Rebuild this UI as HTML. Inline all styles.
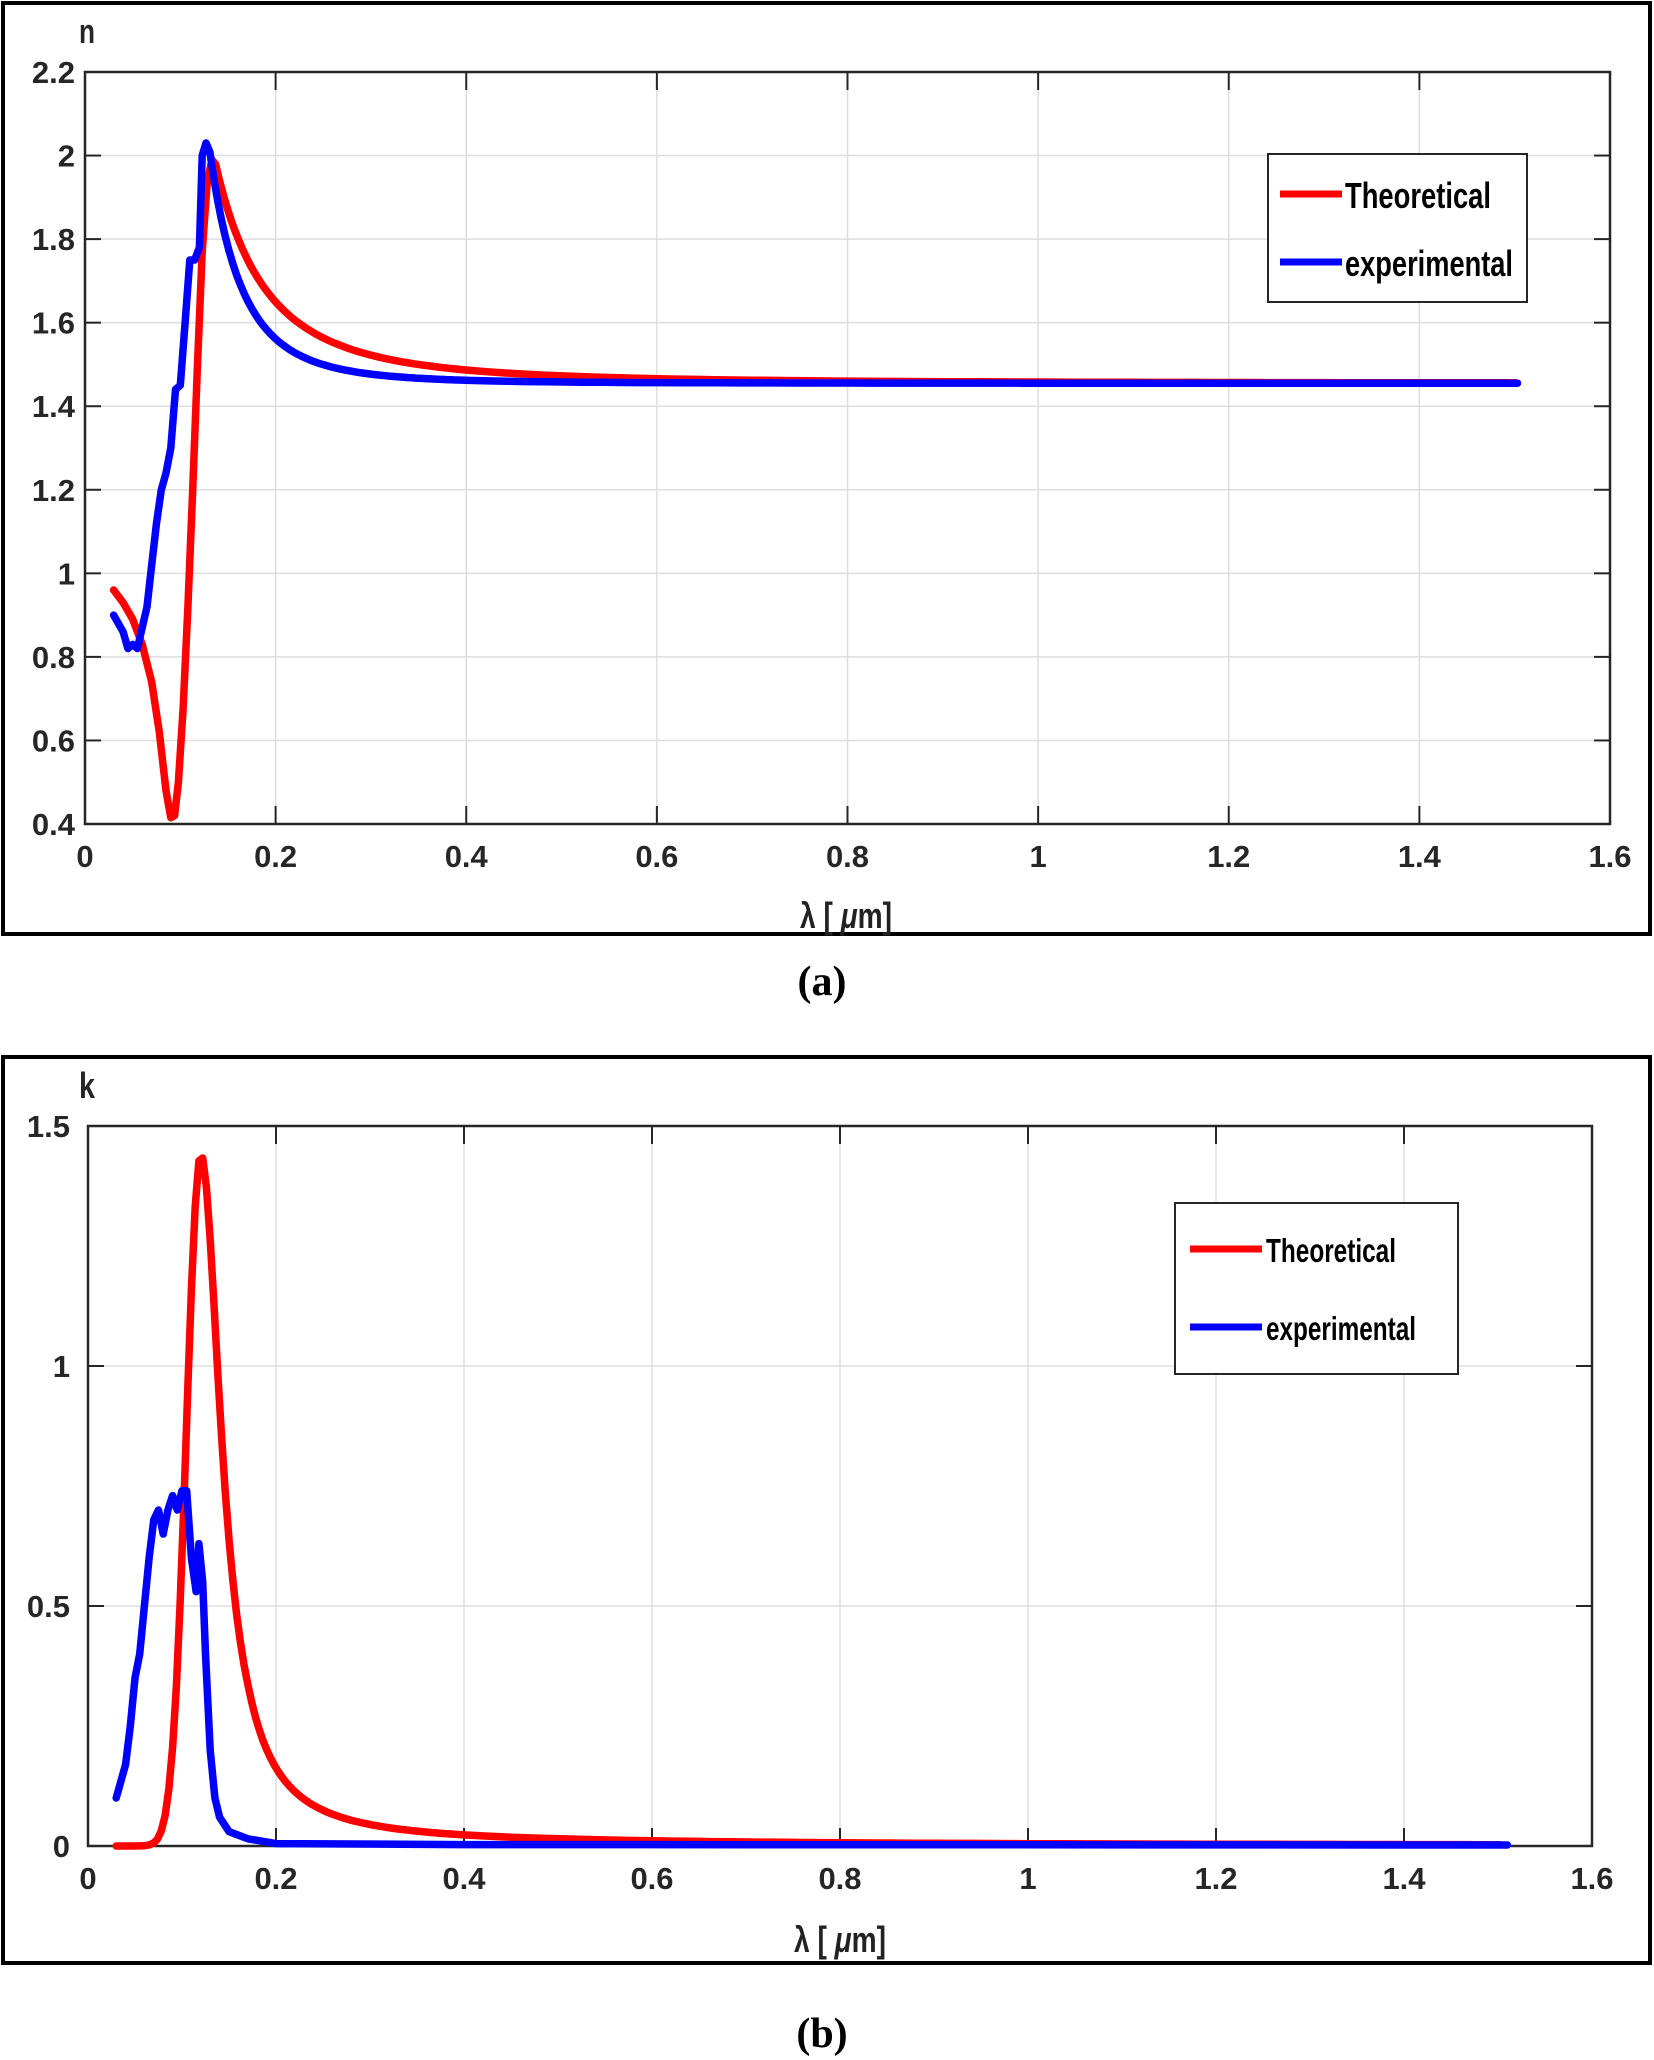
<!DOCTYPE html>
<html><head><meta charset="utf-8"><style>
html,body{margin:0;padding:0;background:#fff;}
svg{display:block;}
text{font-family:"Liberation Sans",sans-serif;font-weight:bold;fill:#262626;}
.tk{font-size:31px;}
</style></head><body>
<svg id="s" width="1654" height="2060" xmlns="http://www.w3.org/2000/svg">
<rect x="3" y="3" width="1647" height="931" fill="none" stroke="#000" stroke-width="4"/>
<rect x="3" y="1057" width="1647" height="906" fill="none" stroke="#000" stroke-width="4"/>
<g id="ga"></g><g id="gb"></g>
<text x="79" y="43" style="font-size:34px" textLength="16" lengthAdjust="spacingAndGlyphs">n</text>
<text x="79" y="1098" style="font-size:36px" textLength="16" lengthAdjust="spacingAndGlyphs">k</text>
<text x="846" y="928" text-anchor="middle" style="font-size:36px;fill:#222" textLength="92" lengthAdjust="spacingAndGlyphs">λ [ <tspan font-style="italic">μ</tspan>m]</text>
<text x="840" y="1952" text-anchor="middle" style="font-size:36px;fill:#222" textLength="92" lengthAdjust="spacingAndGlyphs">λ [ <tspan font-style="italic">μ</tspan>m]</text>
<text x="822" y="995" text-anchor="middle" style="font-family:'Liberation Serif',serif;font-size:42px;fill:#000">(a)</text>
<text x="822" y="2047" text-anchor="middle" style="font-family:'Liberation Serif',serif;font-size:42px;fill:#000">(b)</text>
<rect x="1268" y="154" width="259" height="148" fill="#fff" stroke="#262626" stroke-width="2"/>
<line x1="1280" y1="194" x2="1342" y2="194" stroke="#f00" stroke-width="7"/>
<line x1="1280" y1="262" x2="1342" y2="262" stroke="#00f" stroke-width="7"/>
<text x="1345" y="208" style="font-size:36px;fill:#000" textLength="146" lengthAdjust="spacingAndGlyphs">Theoretical</text>
<text x="1345" y="276" style="font-size:36px;fill:#000" textLength="168" lengthAdjust="spacingAndGlyphs">experimental</text>
<rect x="1175" y="1203" width="283" height="171" fill="#fff" stroke="#262626" stroke-width="2"/>
<line x1="1190" y1="1249" x2="1262" y2="1249" stroke="#f00" stroke-width="7"/>
<line x1="1190" y1="1327" x2="1262" y2="1327" stroke="#00f" stroke-width="7"/>
<text x="1266" y="1262" style="font-size:33px;fill:#000" textLength="130" lengthAdjust="spacingAndGlyphs">Theoretical</text>
<text x="1266" y="1340" style="font-size:33px;fill:#000" textLength="150" lengthAdjust="spacingAndGlyphs">experimental</text>
</svg>
<script>
var NS="http://www.w3.org/2000/svg";
function el(p,t,a,txt){var e=document.createElementNS(NS,t);for(var k in a)e.setAttribute(k,a[k]);if(txt!=null)e.textContent=txt;p.appendChild(e);return e;}
function plot(g,L,T,R,B,y0,y1,ystep,ylabels,red,blue,lx){
 var X=function(v){return L+(R-L)*v/1.6},Y=function(v){return B-(B-T)*(v-y0)/(y1-y0)};
 for(var i=0;i<=8;i++){var x=X(i*0.2);el(g,'line',{x1:x,y1:T,x2:x,y2:B,stroke:'#dedede','stroke-width':1.5});
  el(g,'line',{x1:x,y1:B,x2:x,y2:B-18,stroke:'#262626','stroke-width':2});el(g,'line',{x1:x,y1:T,x2:x,y2:T+18,stroke:'#262626','stroke-width':2});
  var s=(i*0.2).toFixed(1).replace(/\.0$/,'');el(g,'text',{x:x,y:B+43,'text-anchor':'middle','class':'tk'},s);}
 for(var j=0;j<ylabels.length;j++){var v=y0+j*ystep,y=Y(v);el(g,'line',{x1:L,y1:y,x2:R,y2:y,stroke:'#dedede','stroke-width':1.5});
  el(g,'line',{x1:L,y1:y,x2:L+16,y2:y,stroke:'#262626','stroke-width':2});el(g,'line',{x1:R,y1:y,x2:R-16,y2:y,stroke:'#262626','stroke-width':2});
  el(g,'text',{x:lx,y:y+11,'text-anchor':'end','class':'tk'},ylabels[j]);}
 el(g,'rect',{x:L,y:T,width:R-L,height:B-T,fill:'none',stroke:'#262626','stroke-width':2.5});
 [[red,'#f00'],[blue,'#00f']].forEach(function(c){var d=c[0].map(function(p,i){return (i?'L':'M')+X(p[0]).toFixed(1)+','+Y(p[1]).toFixed(1)}).join('');
  el(g,'path',{d:d,fill:'none',stroke:c[1],'stroke-width':7.5,'stroke-linejoin':'round','stroke-linecap':'round'});});
}
function gen(a,b,f){var r=[];for(var x=a;x<=b+1e-9;x+=(x<0.4?0.004:0.02))r.push([x,f(x)]);return r;}
var redA=[[0.03,0.96],[0.04,0.93],[0.05,0.89],[0.06,0.83],[0.07,0.74],[0.078,0.62],[0.085,0.48],[0.09,0.415],[0.094,0.42],[0.098,0.5],[0.103,0.68],[0.108,0.92],[0.113,1.2],[0.118,1.5],[0.123,1.77],[0.128,1.93],[0.133,1.99]].concat(gen(0.137,1.51,function(x){return 1.455+0.545*Math.pow(0.135/x,2.62)}));
var blueA=[[0.03,0.9],[0.04,0.86],[0.045,0.82],[0.05,0.83],[0.055,0.82],[0.06,0.87],[0.065,0.92],[0.07,1.02],[0.075,1.12],[0.08,1.2],[0.085,1.24],[0.09,1.3],[0.095,1.44],[0.1,1.45],[0.105,1.6],[0.11,1.75],[0.115,1.75],[0.12,1.78],[0.123,2.0],[0.127,2.03]].concat(gen(0.131,1.51,function(x){return 1.455+0.57*Math.pow(0.13/x,3.9)}));
plot(document.getElementById('ga'),85,72,1610,824,0.4,2.2,0.2,['0.4','0.6','0.8','1','1.2','1.4','1.6','1.8','2','2.2'],redA,blueA,75);
var redB=gen(0.03,1.51,function(x){var d=x-0.12;if(d<0)return 1.44*Math.exp(-Math.pow(d/0.0215,2));return 1.44/(1+Math.pow(d/0.026,2))+0.025*Math.pow(0.2/x,1.2)*Math.min(1,d/0.05);});
var blueB=[[0.03,0.1],[0.04,0.17],[0.045,0.25],[0.05,0.35],[0.055,0.4],[0.06,0.5],[0.065,0.6],[0.07,0.68],[0.075,0.7],[0.08,0.65],[0.085,0.7],[0.09,0.73],[0.095,0.7],[0.1,0.74],[0.105,0.74],[0.11,0.6],[0.115,0.53],[0.118,0.63],[0.122,0.55],[0.125,0.4],[0.13,0.2],[0.135,0.1],[0.14,0.06],[0.15,0.03],[0.17,0.015],[0.2,0.005],[0.4,0.003],[1.51,0.002]];
plot(document.getElementById('gb'),88,1126,1592,1846,0,1.5,0.5,['0','0.5','1','1.5'],redB,blueB,70);
</script>
</body></html>
